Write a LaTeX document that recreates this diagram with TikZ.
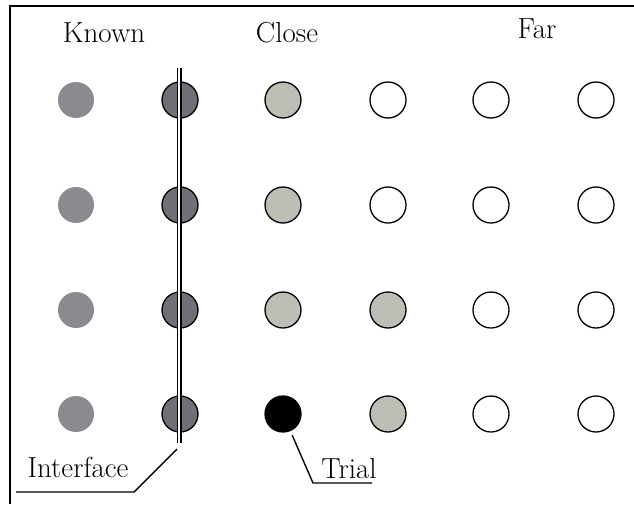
\documentclass[tikz,border=0pt]{standalone}
\usepackage{fontspec}
\begin{document}
\begin{tikzpicture}[x=1pt,y=-1pt,
  every node/.style={inner sep=0pt},
  dot/.style={circle, minimum size=36pt, draw=black, line width=1.3pt},
  known/.style={dot, draw=none, fill=knowngray},
  iface/.style={dot, fill=ifacegray},
  close/.style={dot, fill=closegray},
  trial/.style={dot, fill=black},
  far/.style={dot, fill=white},
  lbl/.style={font=\fontsize{29}{33}\selectfont, anchor=base},
  leader/.style={line width=1.4pt, black}]
\definecolor{knowngray}{HTML}{8A8A90}
\definecolor{ifacegray}{HTML}{6F7078}
\definecolor{closegray}{HTML}{BEBEB6}
\useasboundingbox (0,0) rectangle (634,504);
\fill[white] (0,0) rectangle (634,504);

% open frame: top and left edges
\draw[line width=1.8pt] (634,6) -- (10,6) -- (10,504);

% column headings
\node[lbl] (known) at (104,42) {Known};
\node[lbl] (close) at (287,42) {Close};
\node[lbl] (far) at (537,38) {Far};

% grid of points
\foreach \r/\y in {1/100, 2/205, 3/310, 4/414} {
  \node[known] (a\r) at (76,\y) {};
  \node[iface] (b\r) at (180,\y) {};
}
\node[close] (c1) at (283,100) {};
\node[close] (c2) at (283,205) {};
\node[close] (c3) at (283,310) {};
\node[trial] (c4) at (283,414) {};
\node[far]   (d1) at (388,100) {};
\node[far]   (d2) at (388,205) {};
\node[close] (d3) at (388,310) {};
\node[close] (d4) at (388,414) {};
\foreach \r/\y in {1/100, 2/205, 3/310, 4/414} {
  \node[far] (e\r) at (491,\y) {};
  \node[far] (f\r) at (596,\y) {};
}

% interface: double vertical line through the second column
\coordinate (itop) at (179,68);
\coordinate (ibot) at (179,443);
\draw[line width=1.3pt, double=white, double distance=2.4pt] (itop) -- (ibot);

% labels with leader lines
\node[lbl] (interface) at (78,477) {Interface};
\coordinate (ikink) at (134,492);
\coordinate (iend) at (16,492);
\draw[leader] (177,449) -- (ikink) -- (iend);

\node[lbl] (trial) at (349,478) {Trial};
\coordinate (tkink) at (313,483);
\coordinate (tend) at (372,483);
\draw[leader] (c4.south east) ++(-4,8) -- (tkink) -- (tend);
\end{tikzpicture}
\end{document}
